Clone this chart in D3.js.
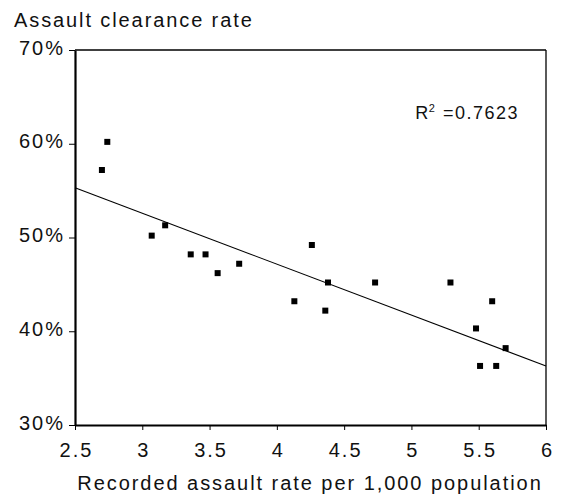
<!DOCTYPE html>
<html><head><meta charset="utf-8">
<script src="https://cdn.jsdelivr.net/npm/d3@7"></script>
<style>
body{margin:0;background:#fff;}
svg text{font-family:"Liberation Sans",Arial,sans-serif;fill:#111;}
</style></head>
<body><svg id="c" width="565" height="496"></svg>
<script>
const assaultRate = [2.70,2.74,3.07,3.17,3.36,3.47,3.56,3.72,4.13,4.26,4.36,4.38,4.73,5.29,5.48,5.51,5.60,5.63,5.70];
const clearance   = [57.2,60.2,50.2,51.3,48.2,48.2,46.2,47.2,43.2,49.2,42.2,45.2,45.2,45.2,40.3,36.3,43.2,36.3,38.2];
const trendX = [2.5, 6];
const trendY = [55.3, 36.3];
const xTicks = [2.5,3,3.5,4,4.5,5,5.5,6];
const yTicks = [30,40,50,60,70];
const yTitle = "Assault clearance rate";
const xTitle = "Recorded assault rate per 1,000 population";
const r2 = "0.7623";

const svg = d3.select("#c");
const L=75,R=546,T=50,B=425;
const x = d3.scaleLinear().domain([2.5,6]).range([L,R]);
const y = d3.scaleLinear().domain([30,70]).range([B,T]);

svg.append("line").attr("x1",L).attr("x2",R).attr("y1",T).attr("y2",T).attr("stroke","#000").attr("stroke-width",1.3);
svg.append("line").attr("x1",R).attr("x2",R).attr("y1",T).attr("y2",B).attr("stroke","#000").attr("stroke-width",1.3);

const xAxis = svg.append("g").attr("transform",`translate(0,${B})`)
  .call(d3.axisBottom(x).tickValues(xTicks).tickSize(5).tickSizeOuter(0).tickPadding(9).tickFormat(d3.format("")));
const yAxis = svg.append("g").attr("transform",`translate(${L},0)`)
  .call(d3.axisLeft(y).tickValues(yTicks).tickSize(6).tickSizeOuter(0).tickPadding(8).tickFormat(d=>d+"%"));
[xAxis,yAxis].forEach(g=>{
  g.select(".domain").attr("stroke","#000").attr("stroke-width",2.2);
  g.selectAll(".tick line").attr("stroke","#000").attr("stroke-width",1);
  g.selectAll(".tick text").attr("font-size",20).attr("letter-spacing","2px")
   .attr("font-family","Liberation Sans, Arial, sans-serif").attr("fill","#111");
});
xAxis.selectAll(".tick text").attr("dx","1px").attr("dy","0.9em");
yAxis.selectAll(".tick text").attr("dx","4px").attr("dy","0.2em");

svg.append("line").attr("x1",x(trendX[0])).attr("y1",y(trendY[0]))
  .attr("x2",x(trendX[1])).attr("y2",y(trendY[1])).attr("stroke","#000").attr("stroke-width",1.1);

const pts = assaultRate.map((v,i)=>({x:v,y:clearance[i]}));
svg.selectAll("rect.pt").data(pts).enter().append("rect").attr("class","pt")
  .attr("x",d=>x(d.x)-3).attr("y",d=>y(d.y)-3).attr("width",6).attr("height",6).attr("fill","#000");

svg.append("text").attr("x",14).attr("y",27).attr("font-size",20).attr("letter-spacing","1.9px").text(yTitle);
svg.append("text").attr("x",310).attr("y",490).attr("text-anchor","middle").attr("font-size",20).attr("letter-spacing","1.95px").text(xTitle);

const t = svg.append("text").attr("x",519).attr("y",119).attr("text-anchor","end")
  .attr("font-size",18).attr("letter-spacing","1.5px");
t.append("tspan").text("R");
t.append("tspan").attr("font-size",11).attr("dy",-7).attr("dx",-1).text("2");
t.append("tspan").attr("dy",7).text(" =" + r2);
</script></body></html>
